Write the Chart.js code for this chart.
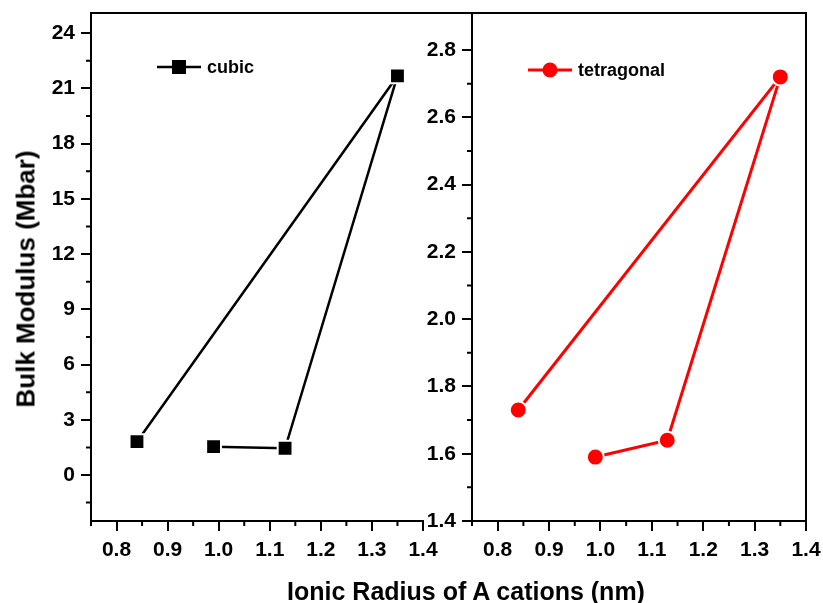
<!DOCTYPE html>
<html>
<head>
<meta charset="utf-8">
<script src="https://cdn.jsdelivr.net/npm/chart.js@4.4.1/dist/chart.umd.min.js"></script>
<style>
  body { margin: 0; background: #fff; }
  #wrap { position: relative; width: 823px; height: 603px; overflow: hidden; background: #fff; }
  #wrap canvas { position: absolute; left: 0; top: 0; }
  .ttl { position: absolute; font: bold 25px "Liberation Sans", Arial, sans-serif; color: #000; white-space: nowrap; line-height: 25px; }
  #ytitle { left: 26px; top: 279px; font-size: 26px; transform: translate(-50%, -50%) rotate(-90deg); }
  #xtitle { left: 466px; top: 591px; transform: translate(-50%, -50%); }
</style>
</head>
<body>
<div id="wrap">
  <canvas id="cubicChart" width="823" height="603"></canvas>
  <canvas id="tetraChart" width="823" height="603"></canvas>
  <div class="ttl" id="ytitle">Bulk Modulus (Mbar)</div>
  <div class="ttl" id="xtitle">Ionic Radius of A cations (nm)</div>
</div>
<script>
// ionic radius of the A cation (nm), in the order the points are joined
var radius = [0.99, 1.13, 1.35, 0.84];
var cubicB = [1.54, 1.45, 21.68, 1.81];
var tetraB = [1.59, 1.64, 2.72, 1.73];

var xTicks = [0.8, 0.9, 1.0, 1.1, 1.2, 1.3, 1.4];
var xMinor = [0.75, 0.85, 0.95, 1.05, 1.15, 1.25, 1.35];
var cubicTicks = [0, 3, 6, 9, 12, 15, 18, 21, 24];
var cubicMinor = [-1.5, 1.5, 4.5, 7.5, 10.5, 13.5, 16.5, 19.5, 22.5];
var tetraTicks = [1.4, 1.6, 1.8, 2.0, 2.2, 2.4, 2.6, 2.8];
var tetraMinor = [1.5, 1.7, 1.9, 2.1, 2.3, 2.5, 2.7];

var FONT = 'Liberation Sans, Arial, sans-serif';

function points(ys){
	var out = [];
	for (var i in radius) out.push({x: radius[i], y: ys[i]});
	return out;
}

// minor tick marks, top frame line and the inset legend
function decor(opt){
	return {
		id: 'decor',
		afterDraw: function(chart){
			var ctx = chart.ctx, a = chart.chartArea;
			var sx = chart.scales.x, sy = chart.scales.y;
			ctx.save();
			ctx.strokeStyle = '#000';
			ctx.lineWidth = 2;
			ctx.beginPath();
			opt.xMinor.forEach(function(v){
				var px = sx.getPixelForValue(v);
				ctx.moveTo(px, a.bottom); ctx.lineTo(px, a.bottom + 5);
			});
			opt.yMinor.forEach(function(v){
				var py = sy.getPixelForValue(v);
				ctx.moveTo(a.left, py); ctx.lineTo(a.left - 5, py);
			});
			// frame
			ctx.moveTo(a.left - opt.topExtra, a.top);
			ctx.lineTo(a.right, a.top);
			if (opt.rightBorder) {
				ctx.lineTo(a.right, a.bottom);
			}
			ctx.stroke();

			// legend
			var ds = chart.data.datasets[0];
			var lx = opt.legend[0], ly = opt.legend[1];
			ctx.strokeStyle = ds.borderColor;
			ctx.lineWidth = ds.borderWidth;
			ctx.beginPath();
			ctx.moveTo(lx, ly); ctx.lineTo(lx + 44, ly);
			ctx.stroke();
			ctx.fillStyle = ds.pointBackgroundColor;
			if (ds.pointStyle === 'rect') {
				ctx.fillRect(lx + 15, ly - 7, 14, 14);
			} else {
				ctx.beginPath();
				ctx.arc(lx + 22, ly, 7.5, 0, Math.PI * 2);
				ctx.fill();
			}
			ctx.fillStyle = '#000';
			ctx.font = 'bold 18px ' + FONT;
			ctx.textBaseline = 'middle';
			ctx.textAlign = 'left';
			ctx.fillText(ds.label, lx + 50, ly + 1);
			ctx.restore();
		}
	};
}

function makeChart(id, ds, yMin, yMax, yTicks, yFmt, pad, yWidth, deco){
	return new Chart(document.getElementById(id), {
		type: 'line',
		data: { datasets: [ds] },
		options: {
			responsive: false,
			animation: false,
			devicePixelRatio: 1,
			layout: { padding: pad, autoPadding: false },
			plugins: { legend: { display: false }, tooltip: { enabled: false } },
			scales: {
				x: {
					type: 'linear', min: 0.75, max: 1.4,
					afterBuildTicks: function(s){ s.ticks = xTicks.map(function(v){ return {value: v}; }); },
					afterFit: function(s){ s.height = 82; s.paddingLeft = 0; s.paddingRight = 0; },
					border: { display: true, color: '#000', width: 2 },
					grid: { drawOnChartArea: false, drawTicks: true, tickLength: 10, color: '#000', lineWidth: 2 },
					ticks: {
						color: '#000', padding: 7, maxRotation: 0,
						font: { family: FONT, size: 21, weight: 'bold' },
						callback: function(v){ return Number(v).toFixed(1); }
					}
				},
				y: {
					type: 'linear', min: yMin, max: yMax,
					afterBuildTicks: function(s){ s.ticks = yTicks.map(function(v){ return {value: v}; }); },
					afterFit: function(s){ s.width = yWidth; s.paddingTop = 0; s.paddingBottom = 0; },
					border: { display: true, color: '#000', width: 2 },
					grid: { drawOnChartArea: false, drawTicks: true, tickLength: 10, color: '#000', lineWidth: 2 },
					ticks: {
						color: '#000', padding: 6,
						font: { family: FONT, size: 21, weight: 'bold' },
						callback: yFmt
					}
				}
			}
		},
		plugins: [decor(deco)]
	});
}

makeChart('cubicChart', {
	label: 'cubic',
	data: points(cubicB),
	borderColor: '#000',
	borderWidth: 2.5,
	pointStyle: 'rect',
	pointRadius: 10.5,
	pointBackgroundColor: '#000',
	pointBorderColor: '#fff',
	pointBorderWidth: 2,
	tension: 0
}, -2.5, 25.1, cubicTicks, function(v){ return String(Math.round(v)); },
{ left: 0, top: 13, right: 400, bottom: 0 }, 91,
{ xMinor: xMinor, yMinor: cubicMinor, topExtra: 0, rightBorder: false, legend: [157, 67] });

makeChart('tetraChart', {
	label: 'tetragonal',
	data: points(tetraB),
	borderColor: '#ff0000',
	borderWidth: 3,
	pointStyle: 'circle',
	pointRadius: 8.5,
	pointBackgroundColor: '#ff0000',
	pointBorderColor: '#fff',
	pointBorderWidth: 2,
	tension: 0
}, 1.4, 2.91, tetraTicks, function(v){ return Number(v).toFixed(1); },
{ left: 420, top: 13, right: 17, bottom: 0 }, 52,
{ xMinor: xMinor, yMinor: tetraMinor, topExtra: 49, rightBorder: true, legend: [528, 70] });
</script>
</body>
</html>
